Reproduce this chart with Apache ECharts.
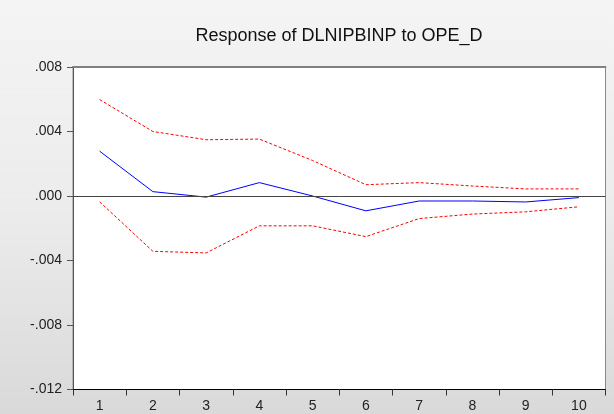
<!DOCTYPE html>
<html>
<head>
<meta charset="utf-8">
<script src="https://cdn.jsdelivr.net/npm/echarts@6/dist/echarts.min.js"></script>
<style>
  html, body { margin: 0; padding: 0; }
  #chart { width: 614px; height: 414px; }
</style>
</head>
<body>
<div id="chart"></div>
<script>
// impulse response periods
const periods = ['1', '2', '3', '4', '5', '6', '7', '8', '9', '10'];
const response = [0.00278, 0.00027, -0.00007, 0.00083, 0.0000, -0.00092, -0.00031, -0.00031, -0.00037, -0.0001];
const upperBand = [0.00598, 0.0040, 0.00349, 0.00353, 0.0022, 0.0007, 0.00083, 0.00062, 0.00044, 0.00044];
const lowerBand = [-0.00036, -0.00343, -0.00353, -0.00185, -0.00185, -0.00252, -0.0014, -0.00112, -0.00098, -0.00067];

const fontFamily = '"Liberation Sans", Arial, sans-serif';

// ".008", "-.004", ".000" like EViews
const fmt = (v) => {
  const r = Math.round(v * 1000) / 1000;
  const s = Math.abs(r).toFixed(3).replace(/^0/, '');
  return (r < 0 ? '-' : '') + s;
};

const chart = echarts.init(document.getElementById('chart'));

const bandStyle = { color: '#ff0000', width: 1, type: [3, 2] };

chart.setOption({
  animation: false,
  backgroundColor: {
    type: 'linear', x: 0, y: 0, x2: 0, y2: 1,
    colorStops: [
      { offset: 0, color: '#f4f4f4' },
      { offset: 0.5, color: '#ececec' },
      { offset: 1, color: '#d9d9d9' },
    ],
  },
  title: {
    text: 'Response of DLNIPBINP to OPE_D',
    left: 334,
    textAlign: 'center',
    top: 22,
    textStyle: { fontFamily, fontSize: 18, fontWeight: 'normal', color: '#111' },
  },
  grid: {
    left: 73, right: 8.5, top: 67, bottom: 24.5,
    show: true,
    backgroundColor: '#ffffff',
    borderColor: '#8a8a8a',
    borderWidth: 1,
  },
  xAxis: [
    {
      type: 'category',
      data: periods,
      boundaryGap: true,
      axisLine: { onZero: false, lineStyle: { color: '#000', width: 1 } },
      axisTick: { show: true, length: 6, lineStyle: { color: '#333' } },
      axisLabel: { fontFamily, fontSize: 14, color: '#222', margin: 10 },
      splitLine: { show: false },
    },
    {
      type: 'category',
      data: periods,
      position: 'top',
      axisLine: { onZero: false, lineStyle: { color: '#808080', width: 2 } },
      axisTick: { show: false },
      axisLabel: { show: false },
    },
  ],
  yAxis: {
    type: 'value',
    min: -0.012,
    max: 0.008,
    interval: 0.004,
    axisLine: { show: true, onZero: false, lineStyle: { color: '#555', width: 1 } },
    axisTick: { show: true, length: 6, lineStyle: { color: '#555' } },
    axisLabel: { fontFamily, fontSize: 14, color: '#222', margin: 11, formatter: fmt },
    splitLine: { show: false },
  },
  series: [
    {
      name: 'upper',
      type: 'line',
      data: upperBand,
      symbol: 'none',
      lineStyle: bandStyle,
      silent: true,
    },
    {
      name: 'lower',
      type: 'line',
      data: lowerBand,
      symbol: 'none',
      lineStyle: bandStyle,
      silent: true,
    },
    {
      name: 'response',
      type: 'line',
      data: response,
      symbol: 'none',
      lineStyle: { color: '#0000ff', width: 1 },
      silent: true,
      markLine: {
        silent: true,
        symbol: 'none',
        label: { show: false },
        lineStyle: { color: '#444', width: 1, type: 'solid' },
        data: [{ yAxis: 0 }],
      },
    },
  ],
});
</script>
</body>
</html>
